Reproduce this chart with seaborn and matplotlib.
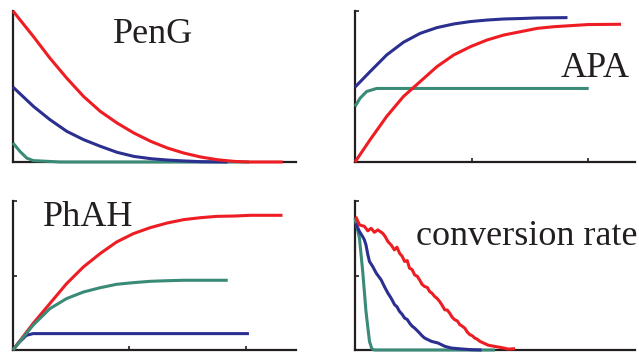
import numpy as np
import pandas as pd
import matplotlib
matplotlib.use("Agg")
import matplotlib.pyplot as plt
import seaborn as sns

sns.set_theme(style="white")
plt.rcParams["font.family"] = ["Liberation Serif", "DejaVu Serif"]

RED = "#ee1d23"
BLUE = "#2b2f8f"
GREEN = "#3a8a78"
INK = "#231f20"

W, H = 639, 354

# ---- PenG ----
peng_red_x = [0, 8.8, 15.9, 23.1, 30.3, 37.5, 44.7, 51.9, 59.1, 66.2, 73.4, 80.6, 87.8, 95.0, 101.4, 115.8]
peng_red_y = [1.0, 0.830, 0.687, 0.555, 0.434, 0.335, 0.258, 0.192, 0.137, 0.093, 0.059, 0.033, 0.015, 0.004, 0.0, 0.0]
peng_blue_x = [0, 8.8, 15.9, 23.1, 30.3, 37.5, 44.7, 51.9, 59.1, 66.2, 73.4, 80.6, 92.1]
peng_blue_y = [0.496, 0.368, 0.280, 0.203, 0.148, 0.104, 0.064, 0.037, 0.022, 0.013, 0.007, 0.002, 0.0]
peng_green_x = [0, 3.0, 5.9, 8.8, 20.3, 101.4]
peng_green_y = [0.126, 0.070, 0.026, 0.009, 0.0, 0.0]

# ---- APA ----
apa_blue_x = [0, 6.5, 13.6, 20.8, 28.0, 35.2, 42.4, 49.6, 56.7, 63.9, 71.1, 78.3, 91.2]
apa_blue_y = [0.496, 0.599, 0.709, 0.793, 0.852, 0.890, 0.914, 0.930, 0.940, 0.947, 0.950, 0.954, 0.956]
apa_red_x = [0, 6.5, 13.6, 20.8, 28.0, 35.2, 42.4, 49.6, 56.7, 63.9, 71.1, 78.3, 85.5, 92.7, 99.9, 114.2]
apa_red_y = [0.0, 0.148, 0.302, 0.434, 0.533, 0.632, 0.709, 0.764, 0.808, 0.841, 0.863, 0.885, 0.896, 0.903, 0.910, 0.912]
apa_green_x = [0, 2.2, 5.0, 9.3, 100.3]
apa_green_y = [0.368, 0.423, 0.467, 0.487, 0.487]

# ---- PhAH ----
phah_red_x = [0, 8.6, 15.8, 23.0, 30.2, 37.4, 44.5, 51.7, 58.9, 66.1, 73.3, 80.5, 87.6, 94.8, 102.0, 115.7]
phah_red_y = [0.0, 0.177, 0.311, 0.445, 0.557, 0.647, 0.725, 0.781, 0.821, 0.852, 0.875, 0.888, 0.897, 0.899, 0.904, 0.904]
phah_green_x = [0, 8.6, 15.8, 23.0, 30.2, 37.4, 44.5, 51.7, 58.9, 66.1, 73.3, 92.2]
phah_green_y = [0.0, 0.166, 0.277, 0.345, 0.389, 0.418, 0.441, 0.452, 0.461, 0.465, 0.468, 0.468]
phah_blue_x = [0, 2.2, 4.3, 5.7, 8.6, 101.3]
phah_blue_y = [0.0, 0.045, 0.076, 0.098, 0.110, 0.110]

# ---- conversion rate ----
conv_red_x = [0.3, 1.9, 4.0, 5.5, 6.9, 8.3, 9.8, 11.9, 13.0, 14.1, 15.5, 16.9, 18.0, 19.1, 20.2,
              21.3, 22.4, 23.4, 24.5, 25.6, 26.7, 27.7, 28.8, 29.9, 31.0, 32.0, 33.1, 34.2, 35.3,
              36.3, 37.4, 38.5, 39.6, 40.6, 41.7, 42.8, 43.9, 45.0, 46.0, 47.1, 48.2, 49.3, 50.4,
              51.4, 52.5, 53.6, 55.4, 57.2, 60.0, 62.9, 65.8, 68.7]
conv_red_y = [0.895, 0.840, 0.830, 0.800, 0.817, 0.790, 0.806, 0.783, 0.760, 0.728, 0.705, 0.672, 0.690,
              0.650, 0.630, 0.594, 0.600, 0.549, 0.540, 0.504, 0.495, 0.471, 0.440, 0.426, 0.420,
              0.393, 0.380, 0.359, 0.345, 0.326, 0.300, 0.270, 0.268, 0.248, 0.220, 0.203, 0.195,
              0.170, 0.160, 0.147, 0.120, 0.103, 0.095, 0.080, 0.072, 0.058, 0.045, 0.032, 0.024,
              0.016, 0.006, 0.009]
conv_blue_x = [0.3, 1.9, 3.3, 4.0, 4.7, 5.5, 6.2, 7.6, 9.1, 11.2, 12.6, 14.1, 15.5, 17.0, 18.0, 19.1,
               20.2, 21.3, 22.4, 23.4, 24.5, 25.6, 26.7, 27.7, 28.8, 29.9, 32.8, 35.6, 38.5, 41.4,
               45.7, 50.0, 54.3]
conv_blue_y = [0.850, 0.795, 0.760, 0.740, 0.705, 0.640, 0.594, 0.560, 0.516, 0.471, 0.426, 0.382,
               0.348, 0.304, 0.290, 0.259, 0.240, 0.214, 0.205, 0.181, 0.160, 0.147, 0.130, 0.114,
               0.095, 0.080, 0.058, 0.047, 0.025, 0.013, 0.007, 0.002, 0.0]
conv_green_x = [0, 1.9, 3.3, 4.7, 6.2, 7.2, 8.3, 60.1]
conv_green_y = [0.884, 0.750, 0.527, 0.259, 0.058, 0.009, 0.0, 0.0]


def frame(series):
    parts = []
    for name, xs, ys in series:
        parts.append(pd.DataFrame({"t": xs, "v": ys, "s": name}))
    return pd.concat(parts, ignore_index=True)


# label position = (left edge px, baseline px) in figure pixels from top-left
panels = [
    dict(title="PenG", series=[("green", peng_green_x, peng_green_y), ("blue", peng_blue_x, peng_blue_y),
                               ("red", peng_red_x, peng_red_y)],
         rect=[0.0203, 0.5424, 0.4429, 0.4266], xmax=121.5, xt=[], yt=[],
         label_px=(113, 43)),
    dict(title="APA", series=[("green", apa_green_x, apa_green_y), ("blue", apa_blue_x, apa_blue_y),
                              ("red", apa_red_x, apa_red_y)],
         rect=[0.5556, 0.5424, 0.4382, 0.4266], xmax=120.2, xt=[50, 100], yt=[1.0],
         label_px=(561, 77)),
    dict(title="PhAH", series=[("blue", phah_blue_x, phah_blue_y), ("red", phah_red_x, phah_red_y),
                               ("green", phah_green_x, phah_green_y)],
         rect=[0.0203, 0.0113, 0.4429, 0.4209], xmax=121.5, xt=[50, 100], yt=[0.5, 1.0],
         label_px=(43, 226)),
    dict(title="conversion rate", series=[("green", conv_green_x, conv_green_y),
                                          ("blue", conv_blue_x, conv_blue_y),
                                          ("red", conv_red_x, conv_red_y)],
         rect=[0.5556, 0.0113, 0.4382, 0.4209], xmax=120.2, xt=[], yt=[0.5, 1.0],
         label_px=(416, 245)),
]

palette = {"red": RED, "blue": BLUE, "green": GREEN}

fig = plt.figure(figsize=(W / 100, H / 100), dpi=100)
for p in panels:
    ax = fig.add_axes(p["rect"])
    df = frame(p["series"])
    sns.lineplot(data=df, x="t", y="v", hue="s", palette=palette, hue_order=[s[0] for s in p["series"]],
                 estimator=None, sort=False, linewidth=2.2, legend=False, ax=ax)
    for ln in ax.lines:
        ln.set_clip_on(False)
        ln.set_solid_capstyle("butt")
        ln.set_zorder(3)
    ax.set_xlim(0, p["xmax"])
    ax.set_ylim(0, 1)
    ax.set_xlabel("")
    ax.set_ylabel("")
    ax.set_xticks(p["xt"])
    ax.set_yticks(p["yt"])
    ax.set_xticklabels([])
    ax.set_yticklabels([])
    ax.tick_params(direction="in", length=3, width=1.2, color=INK,
                   left=bool(p["yt"]), bottom=bool(p["xt"]))
    for side in ("top", "right"):
        ax.spines[side].set_visible(False)
    for side in ("left", "bottom"):
        ax.spines[side].set_color(INK)
        ax.spines[side].set_linewidth(1.6)
        ax.spines[side].set_zorder(2)
    ax.set_facecolor("none")
    lx, ly = p["label_px"]
    fig.text(lx / W, 1 - ly / H, p["title"], ha="left", va="baseline",
             fontsize=26, color=INK)

fig.savefig("out.png", dpi=100, facecolor="white")
